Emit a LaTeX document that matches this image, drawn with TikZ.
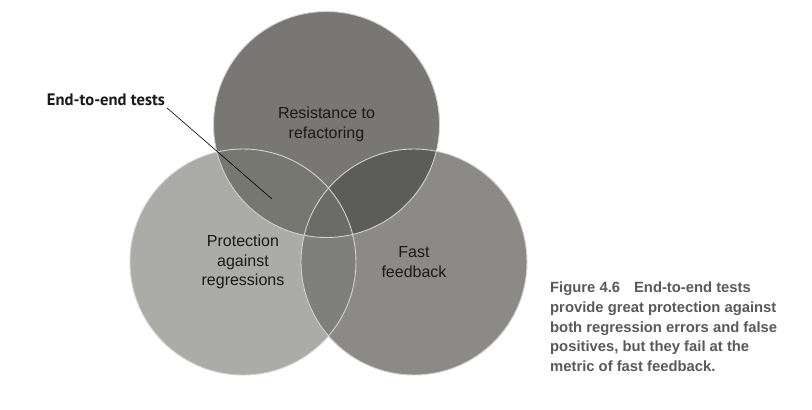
\documentclass[tikz,border=0pt]{standalone}
\usepackage{fontspec}
\setmainfont{Liberation Sans}
\newfontfamily\calloutfont{PT Sans}
\definecolor{topgray}{HTML}{787773}
\definecolor{leftgray}{HTML}{ABACA7}
\definecolor{rightgray}{HTML}{8B8A86}
\definecolor{topleftgray}{HTML}{777772}
\definecolor{toprightgray}{HTML}{5C5C59}
\definecolor{leftrightgray}{HTML}{7F807B}
\definecolor{middlegray}{HTML}{6B6C68}
\definecolor{rimgray}{HTML}{D2D2CE}
\definecolor{captiongray}{HTML}{595959}
\def\r{113}
\tikzstyle{quality} = [
    circle,
    minimum size=226pt,
    inner sep=0pt,
    draw=rimgray,
    line width=0.9pt,
    align=center,
    text=black!90,
    font=\fontsize{16}{19.5}\selectfont
]
\tikzstyle{callout} = [
    inner sep=2pt,
    text=black!90,
    font=\calloutfont\bfseries\fontsize{16.6}{18}\selectfont
]
\tikzstyle{caption} = [
    inner sep=0pt,
    align=left,
    text=captiongray,
    font=\bfseries\fontsize{14.8}{19.6}\selectfont
]

\begin{document}
\begin{tikzpicture}[x=1pt, y=-1pt]
\useasboundingbox (0,0) rectangle (812,410);

\coordinate (ctop) at (326.5,124.5);
\coordinate (cleft) at (243,262);
\coordinate (cright) at (414,262);

% fills
\fill[leftgray] (cleft) circle (\r);
\fill[rightgray] (cright) circle (\r);
\fill[topgray] (ctop) circle (\r);
\begin{scope}
  \clip (ctop) circle (\r);
  \fill[topleftgray] (cleft) circle (\r);
  \fill[toprightgray] (cright) circle (\r);
\end{scope}
\begin{scope}
  \clip (cleft) circle (\r);
  \fill[leftrightgray] (cright) circle (\r);
  \clip (ctop) circle (\r);
  \fill[middlegray] (cright) circle (\r);
\end{scope}

% circles with their texts
\node (resist) [quality] at (ctop) {Resistance to\\refactoring};
\node (protect) [quality] at (cleft) {Protection\\against\\regressions};
\node (fast) [quality] at (cright) {Fast\\feedback};

% callout
\node (e2e) [callout, anchor=base east] at (167,105.5) {End-to-end tests};
\coordinate (hit) at (272,199);
\draw [line width=0.6pt] (e2e.south east) -- (hit);

% caption
\node (fig) [caption, anchor=north west] at (550,282)
{Figure 4.6\hspace{14pt}End-to-end tests\\
provide great protection against\\
both regression errors and false\\
positives, but they fail at the\\
metric of fast feedback.};

\end{tikzpicture}
\end{document}
